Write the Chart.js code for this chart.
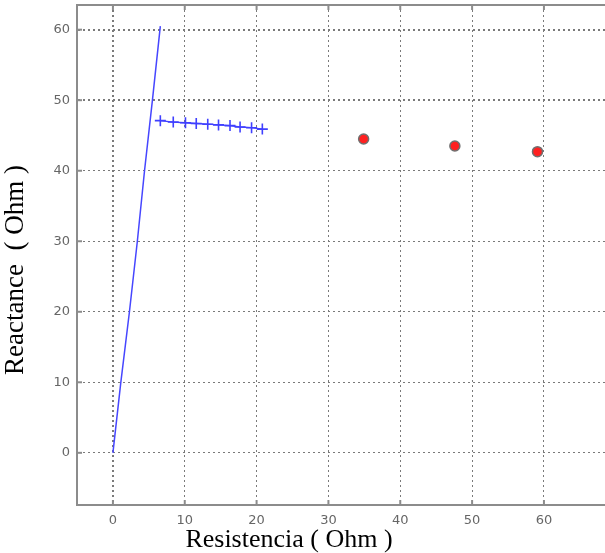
<!DOCTYPE html>
<html>
<head>
<meta charset="utf-8">
<script src="https://cdn.jsdelivr.net/npm/chart.js@4"></script>
<style>
  html, body { margin: 0; padding: 0; background: #fff; }
  #wrap { width: 605px; height: 553px; }
</style>
</head>
<body>
<div id="wrap"><canvas id="chart" width="605" height="553"></canvas></div>
<script>
// Straight blue line from the origin
const lineX = [ 0, 1.1, 2.3, 3.4, 4.4, 5.5, 6.6 ]
const lineY = [ 0, 10, 20, 30, 40, 50, 60.5 ]

// Blue "+" series
const plusX = [ 6.6, 8.4, 10.1, 11.6, 13.2, 14.7, 16.3, 17.7, 19.3, 20.8 ]
const plusY = [ 47.1, 46.9, 46.8, 46.7, 46.6, 46.5, 46.4, 46.2, 46.1, 45.9 ]

// Red circles
const circleX = [ 34.9, 47.6, 59.1 ]
const circleY = [ 44.5, 43.5, 42.7 ]

const xTicks = [ 0, 10, 20, 30, 40, 50, 60 ]
const yTicks = [ 0, 10, 20, 30, 40, 50, 60 ]

const xTitle = 'Resistencia ( Ohm )'
const yTitle = 'Reactance  ( Ohm )'

const toPoints = ( xs, ys ) => xs.map( ( x, i ) => ( { x: x, y: ys[ i ] } ) )

const gridColor = '#7a7a7a'
const axisColor = '#8c8c8c'
const tickFont = { family: 'DejaVu Sans', size: 13 }

// top border, inner tick marks and the two axis titles
const framePlugin = {
    id: 'frame',
    afterDraw ( chart ) {
        const { ctx, chartArea, scales } = chart
        ctx.save()
        ctx.strokeStyle = axisColor
        ctx.lineWidth = 2
        ctx.beginPath()
        ctx.moveTo( chartArea.left, chartArea.top )
        ctx.lineTo( chartArea.right, chartArea.top )
        ctx.stroke()

        xTicks.forEach( v => {
            const px = scales.x.getPixelForValue( v )
            ctx.beginPath()
            ctx.moveTo( px, chartArea.bottom )
            ctx.lineTo( px, chartArea.bottom - 5 )
            ctx.moveTo( px, chartArea.top )
            ctx.lineTo( px, chartArea.top + 5 )
            ctx.stroke()
        } )
        yTicks.forEach( v => {
            const py = scales.y.getPixelForValue( v )
            ctx.beginPath()
            ctx.moveTo( chartArea.left, py )
            ctx.lineTo( chartArea.left + 5, py )
            ctx.stroke()
        } )

        ctx.fillStyle = '#000'
        ctx.textBaseline = 'alphabetic'
        ctx.textAlign = 'center'
        ctx.font = '26px "Liberation Serif"'
        ctx.fillText( xTitle, 289, 547 )

        ctx.font = '27px "Liberation Serif"'
        ctx.translate( 23, 270 )
        ctx.rotate( -Math.PI / 2 )
        ctx.fillText( yTitle, 0, 0 )
        ctx.restore()
    }
}

const keepTicks = list => scale => {
    scale.ticks = list.map( v => ( { value: v } ) )
}

new Chart( document.getElementById( 'chart' ), {
    type: 'scatter',
    data: {
        datasets: [
            {
                data: toPoints( lineX, lineY ),
                showLine: true,
                borderColor: '#4646ff',
                borderWidth: 1.5,
                pointRadius: 0
            },
            {
                data: toPoints( plusX, plusY ),
                showLine: true,
                borderColor: '#4040ff',
                borderWidth: 1.3,
                pointStyle: 'cross',
                pointRadius: 5.5,
                pointBorderWidth: 1.6
            },
            {
                data: toPoints( circleX, circleY ),
                showLine: false,
                pointStyle: 'circle',
                pointRadius: 5,
                backgroundColor: '#ff2020',
                borderColor: '#707070',
                pointBorderWidth: 1.5
            }
        ]
    },
    options: {
        responsive: false,
        animation: false,
        layout: {
            autoPadding: false,
            padding: { top: 5, right: 0, left: 0, bottom: 0 }
        },
        plugins: {
            legend: { display: false },
            tooltip: { enabled: false }
        },
        scales: {
            x: {
                type: 'linear',
                min: -5,
                max: 68.5,
                afterBuildTicks: keepTicks( xTicks ),
                afterFit: scale => {
                    scale.height = 48
                    scale.paddingLeft = 0
                    scale.paddingRight = 0
                },
                grid: {
                    color: gridColor,
                    lineWidth: ctx => ( ctx.tick && ctx.tick.value === 0 ? 2 : 1 ),
                    drawTicks: false
                },
                border: { color: axisColor, width: 2, dash: [ 2, 3 ] },
                ticks: { color: '#666', font: tickFont, padding: 8, maxRotation: 0 }
            },
            y: {
                type: 'linear',
                min: -7.4,
                max: 63.5,
                afterBuildTicks: keepTicks( yTicks ),
                afterFit: scale => {
                    scale.width = 77
                    scale.paddingTop = 0
                    scale.paddingBottom = 0
                },
                grid: {
                    color: gridColor,
                    lineWidth: ctx => ( ctx.tick && ctx.tick.value >= 50 ? 2 : 1 ),
                    drawTicks: false
                },
                border: { color: axisColor, width: 2, dash: [ 2, 3 ] },
                ticks: { color: '#666', font: tickFont, padding: 7 }
            }
        }
    },
    plugins: [ framePlugin ]
} )
</script>
</body>
</html>
